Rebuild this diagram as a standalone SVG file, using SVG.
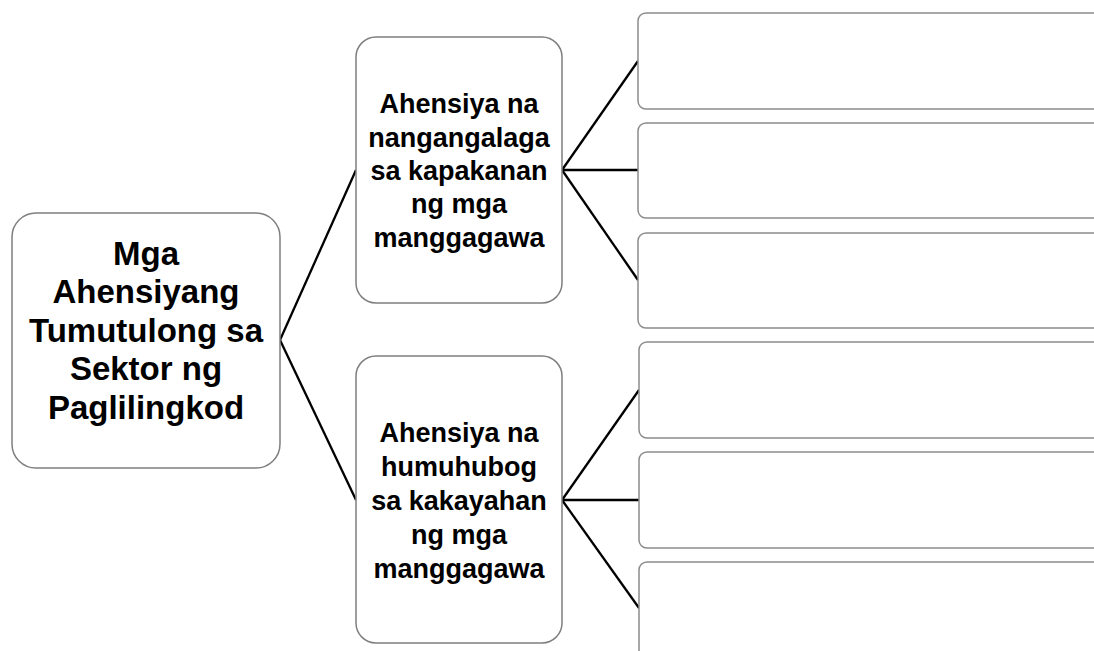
<svg xmlns="http://www.w3.org/2000/svg" width="1094" height="651" viewBox="0 0 1094 651">
  <style>
    .box { fill: #ffffff; stroke: #7f7f7f; stroke-width: 1.5; }
    .leaf { fill: #ffffff; stroke: #8c8c8c; stroke-width: 1.5; }
    .link { stroke: #000000; stroke-width: 2.3; fill: none; }
    .label { font-family: "Liberation Sans", Arial, sans-serif; font-weight: bold; fill: #000000; text-anchor: middle; }
    .root-text { font-size: 33px; }
    .mid-text { font-size: 27px; }
  </style>
  <rect width="1094" height="651" fill="#ffffff"/>

  <!-- connectors -->
  <g id="connectors">
    <line class="link" x1="280" y1="340" x2="356" y2="170"/>
    <line class="link" x1="280" y1="340" x2="356" y2="500"/>
    <line class="link" x1="562" y1="170" x2="638" y2="61"/>
    <line class="link" x1="562" y1="170" x2="638" y2="170"/>
    <line class="link" x1="562" y1="170" x2="638" y2="280"/>
    <line class="link" x1="562" y1="500" x2="639" y2="390"/>
    <line class="link" x1="562" y1="500" x2="639" y2="500"/>
    <line class="link" x1="562" y1="500" x2="639" y2="608"/>
  </g>

  <!-- root -->
  <g id="root">
    <rect class="box" x="12" y="213" width="268" height="255" rx="24"/>
    <text class="label root-text" x="146" y="265">Mga</text>
    <text class="label root-text" x="146" y="303">Ahensiyang</text>
    <text class="label root-text" x="146" y="342">Tumutulong sa</text>
    <text class="label root-text" x="146" y="380">Sektor ng</text>
    <text class="label root-text" x="146" y="419">Paglilingkod</text>
  </g>

  <!-- branch: welfare -->
  <g id="welfare">
    <rect class="box" x="356" y="37" width="206" height="266" rx="20"/>
    <text class="label mid-text" x="459" y="113">Ahensiya na</text>
    <text class="label mid-text" x="459" y="147">nangangalaga</text>
    <text class="label mid-text" x="459" y="180">sa kapakanan</text>
    <text class="label mid-text" x="459" y="213">ng mga</text>
    <text class="label mid-text" x="459" y="247">manggagawa</text>
  </g>

  <!-- branch: skills -->
  <g id="skills">
    <rect class="box" x="356" y="356" width="206" height="287" rx="20"/>
    <text class="label mid-text" x="459" y="442">Ahensiya na</text>
    <text class="label mid-text" x="459" y="476">humuhubog</text>
    <text class="label mid-text" x="459" y="510">sa kakayahan</text>
    <text class="label mid-text" x="459" y="544">ng mga</text>
    <text class="label mid-text" x="459" y="578">manggagawa</text>
  </g>

  <!-- empty answer boxes -->
  <g id="welfare-1"><rect class="leaf" x="638" y="13" width="500" height="96" rx="8"/></g>
  <g id="welfare-2"><rect class="leaf" x="638" y="123" width="500" height="95" rx="8"/></g>
  <g id="welfare-3"><rect class="leaf" x="638" y="233" width="500" height="95" rx="8"/></g>
  <g id="skills-1"><rect class="leaf" x="639" y="342" width="500" height="96" rx="8"/></g>
  <g id="skills-2"><rect class="leaf" x="639" y="452" width="500" height="96" rx="8"/></g>
  <g id="skills-3"><rect class="leaf" x="639" y="562" width="500" height="120" rx="8"/></g>
</svg>
